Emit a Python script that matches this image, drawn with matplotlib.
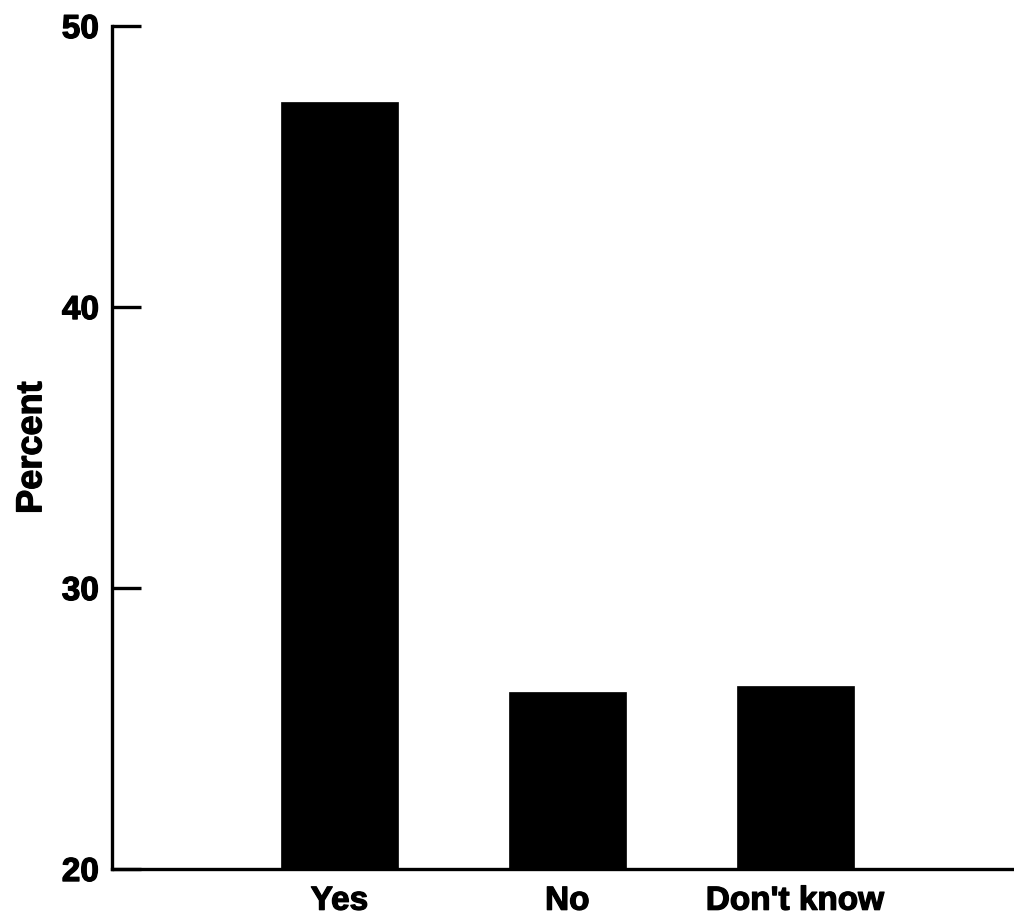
import matplotlib
matplotlib.use("Agg")
import matplotlib.pyplot as plt
import matplotlib.patheffects as pe

categories = ["Yes", "No", "Don't know"]
percent = [47.3, 26.3, 26.5]
y_ticks = [20, 30, 40, 50]

plt.rcParams['font.family'] = ['Liberation Sans', 'DejaVu Sans']
plt.rcParams['font.weight'] = 'bold'

fig = plt.figure(figsize=(10.14, 9.2), dpi=100)
ax = fig.add_axes([0.11, 0.0543, 0.89, 0.9163])

positions = [1, 2, 3]
ax.bar(positions, percent, width=0.515, bottom=0, color='black', edgecolor='black', linewidth=0.5)

ax.set_xlim(0, 3.96)
ax.set_ylim(20, 50)
ax.set_yticks(y_ticks)
ax.set_yticklabels([str(t) for t in y_ticks], fontsize=24, fontweight='bold')
ax.set_xticks(positions)
ax.set_xticklabels(categories, fontsize=24, fontweight='bold')

ax.tick_params(axis='y', direction='in', length=21, width=2.4, pad=9)
ax.tick_params(axis='x', length=0, pad=12)

for side in ('top', 'right'):
    ax.spines[side].set_visible(False)
for side in ('left', 'bottom'):
    ax.spines[side].set_linewidth(2.4)

ax.set_ylabel("Percent", fontsize=26, fontweight='bold', labelpad=9)

# slightly heavier glyph strokes
heavy = [pe.withStroke(linewidth=0.9, foreground='black')]
for lbl in ax.get_xticklabels() + ax.get_yticklabels() + [ax.yaxis.label]:
    lbl.set_path_effects(heavy)

fig.savefig("out.png", dpi=100)
